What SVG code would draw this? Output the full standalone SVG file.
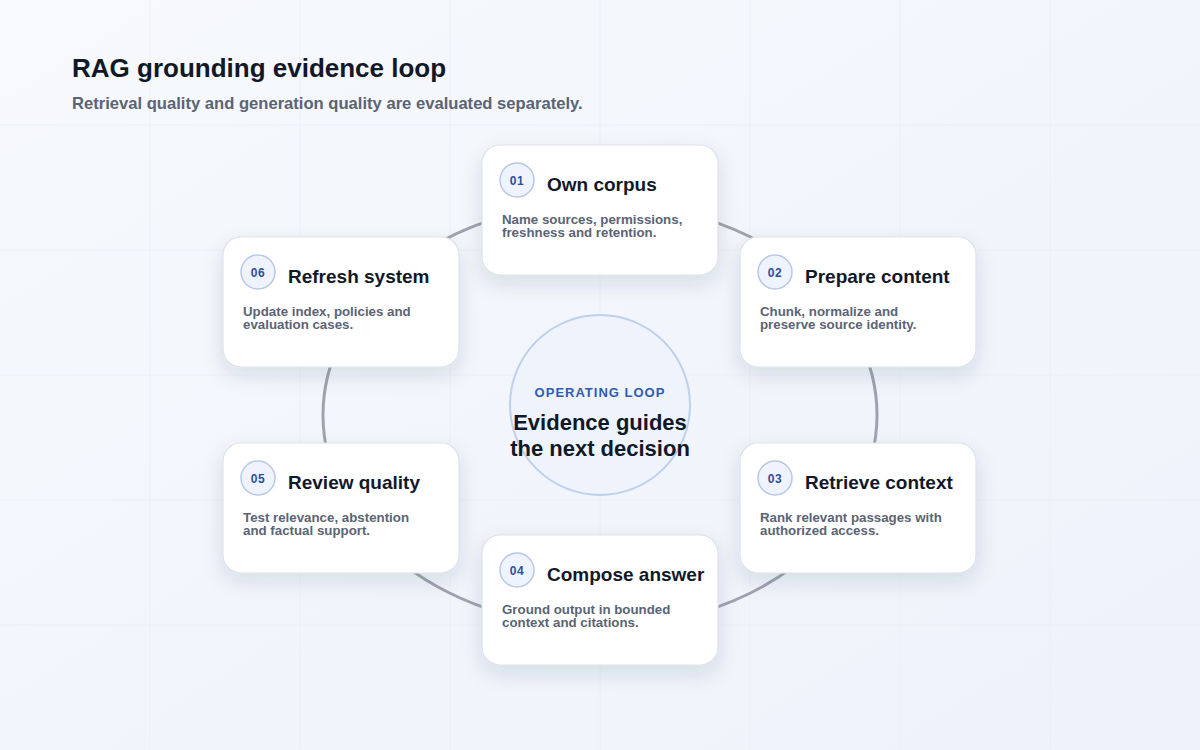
<svg xmlns="http://www.w3.org/2000/svg" width="1200" height="750" viewBox="0 0 1200 750">
  <defs>
    <linearGradient id="bg" x1="0" y1="0" x2="1" y2="1">
      <stop offset="0" stop-color="#f7f9fc"/>
      <stop offset="1" stop-color="#edf2fb"/>
    </linearGradient>
    <filter id="shadow" x="-30%" y="-30%" width="160%" height="170%">
      <feDropShadow dx="0" dy="8" stdDeviation="10" flood-color="#1e2a4a" flood-opacity="0.12"/>
    </filter>
    <style>
      .grid line { stroke: #e9edf4; stroke-width: 1; opacity: 0.7; }
      .card { fill: #ffffff; stroke: #dde2ea; stroke-width: 1.2; filter: url(#shadow); }
      .badge { fill: #eef3fd; stroke: #b9c8e6; stroke-width: 1.5; }
      .num { font-family: "Liberation Sans", Arial, sans-serif; font-size: 12px; font-weight: 700; fill: #2f4f9a; letter-spacing: 0.6px; text-anchor: middle; }
      .head { font-family: "Liberation Sans", Arial, sans-serif; font-size: 19px; font-weight: 700; fill: #111827; }
      .desc { font-family: "Liberation Sans", Arial, sans-serif; font-size: 13.3px; font-weight: 700; fill: #5b6474; }
      .ring { fill: none; stroke: #9ea4af; stroke-width: 3; }
    </style>
  </defs>

  <rect x="0" y="0" width="1200" height="750" fill="url(#bg)"/>
  <g class="grid">
    <line x1="150" y1="0" x2="150" y2="750"/>
    <line x1="300" y1="0" x2="300" y2="750"/>
    <line x1="450" y1="0" x2="450" y2="750"/>
    <line x1="600" y1="0" x2="600" y2="750"/>
    <line x1="750" y1="0" x2="750" y2="750"/>
    <line x1="900" y1="0" x2="900" y2="750"/>
    <line x1="1050" y1="0" x2="1050" y2="750"/>
    <line x1="0" y1="125" x2="1200" y2="125"/>
    <line x1="0" y1="250" x2="1200" y2="250"/>
    <line x1="0" y1="375" x2="1200" y2="375"/>
    <line x1="0" y1="500" x2="1200" y2="500"/>
    <line x1="0" y1="625" x2="1200" y2="625"/>
  </g>

  <g id="title">
    <text x="72" y="77" font-family="Liberation Sans, Arial, sans-serif" font-size="26" font-weight="700" fill="#111827">RAG grounding evidence loop</text>
    <text x="72" y="109" font-family="Liberation Sans, Arial, sans-serif" font-size="16.6" font-weight="700" fill="#5b6474">Retrieval quality and generation quality are evaluated separately.</text>
  </g>

  <g id="connectors">
    <ellipse class="ring" cx="600" cy="415" rx="277" ry="212"/>
  </g>

  <g id="center">
    <circle cx="600" cy="405" r="90" fill="#eef3fc" stroke="#bfd0ec" stroke-width="2"/>
    <text x="600" y="397" text-anchor="middle" font-family="Liberation Sans, Arial, sans-serif" font-size="13" font-weight="700" fill="#2f5bb7" letter-spacing="1">OPERATING LOOP</text>
    <text x="600" y="430" text-anchor="middle" font-family="Liberation Sans, Arial, sans-serif" font-size="22" font-weight="700" fill="#111827">Evidence guides</text>
    <text x="600" y="456" text-anchor="middle" font-family="Liberation Sans, Arial, sans-serif" font-size="22" font-weight="700" fill="#111827">the next decision</text>
  </g>

  <g id="node-01" transform="translate(482,145)">
    <rect class="card" x="0" y="0" width="236" height="130" rx="18"/>
    <circle class="badge" cx="35" cy="35" r="17"/>
    <text class="num" x="35" y="40">01</text>
    <text class="head" x="65" y="46">Own corpus</text>
    <text class="desc" x="20" y="79">Name sources, permissions,</text>
    <text class="desc" x="20" y="92">freshness and retention.</text>
  </g>

  <g id="node-02" transform="translate(740,237)">
    <rect class="card" x="0" y="0" width="236" height="130" rx="18"/>
    <circle class="badge" cx="35" cy="35" r="17"/>
    <text class="num" x="35" y="40">02</text>
    <text class="head" x="65" y="46">Prepare content</text>
    <text class="desc" x="20" y="79">Chunk, normalize and</text>
    <text class="desc" x="20" y="92">preserve source identity.</text>
  </g>

  <g id="node-03" transform="translate(740,443)">
    <rect class="card" x="0" y="0" width="236" height="130" rx="18"/>
    <circle class="badge" cx="35" cy="35" r="17"/>
    <text class="num" x="35" y="40">03</text>
    <text class="head" x="65" y="46">Retrieve context</text>
    <text class="desc" x="20" y="79">Rank relevant passages with</text>
    <text class="desc" x="20" y="92">authorized access.</text>
  </g>

  <g id="node-04" transform="translate(482,535)">
    <rect class="card" x="0" y="0" width="236" height="130" rx="18"/>
    <circle class="badge" cx="35" cy="35" r="17"/>
    <text class="num" x="35" y="40">04</text>
    <text class="head" x="65" y="46">Compose answer</text>
    <text class="desc" x="20" y="79">Ground output in bounded</text>
    <text class="desc" x="20" y="92">context and citations.</text>
  </g>

  <g id="node-05" transform="translate(223,443)">
    <rect class="card" x="0" y="0" width="236" height="130" rx="18"/>
    <circle class="badge" cx="35" cy="35" r="17"/>
    <text class="num" x="35" y="40">05</text>
    <text class="head" x="65" y="46">Review quality</text>
    <text class="desc" x="20" y="79">Test relevance, abstention</text>
    <text class="desc" x="20" y="92">and factual support.</text>
  </g>

  <g id="node-06" transform="translate(223,237)">
    <rect class="card" x="0" y="0" width="236" height="130" rx="18"/>
    <circle class="badge" cx="35" cy="35" r="17"/>
    <text class="num" x="35" y="40">06</text>
    <text class="head" x="65" y="46">Refresh system</text>
    <text class="desc" x="20" y="79">Update index, policies and</text>
    <text class="desc" x="20" y="92">evaluation cases.</text>
  </g>
</svg>
